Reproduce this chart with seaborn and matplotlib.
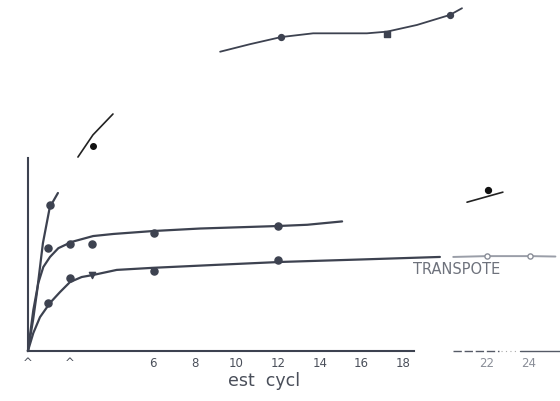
import matplotlib
matplotlib.use("Agg")
import matplotlib.pyplot as plt
import seaborn as sns
import pandas as pd

# ---- data ----
# steep curve (A)
a_x = [0.0, 0.25, 0.43, 0.72, 1.05, 1.44]
a_y = [0.0, 0.75, 1.39, 2.58, 3.44, 3.78]
a_pt_x = [1.06]
a_pt_y = [3.49]

# middle curve (B)
b_x = [0.0, 0.26, 0.5, 0.74, 1.06, 1.46, 2.1, 3.13, 4.1, 6.0, 8.25, 12.0, 13.4, 15.07]
b_y = [0.0, 0.98, 1.63, 2.01, 2.25, 2.46, 2.61, 2.75, 2.8, 2.87, 2.93, 2.99, 3.02, 3.1]
b_pt_x = [0.96, 2.02, 3.07, 6.05, 11.99]
b_pt_y = [2.46, 2.56, 2.56, 2.82, 2.99]

# lower curve (C)
c_x = [0.0, 0.26, 0.58, 1.06, 1.54, 2.02, 2.58, 3.14, 4.26, 6.0, 9.0, 12.1, 16.0, 19.76]
c_y = [0.0, 0.43, 0.81, 1.15, 1.41, 1.65, 1.77, 1.82, 1.94, 1.99, 2.06, 2.13, 2.19, 2.25]
c_pt_x = [0.96, 2.02, 6.05, 11.99]
c_pt_y = [1.15, 1.75, 1.91, 2.18]
c_v_x = [3.07]
c_v_y = [1.81]

# continuation of C on the right (faded)
c2_x = [20.4, 22.0, 24.1, 25.3]
c2_y = [2.25, 2.27, 2.27, 2.26]
c2_pt_x = [22.0, 24.1]
c2_pt_y = [2.27, 2.27]

# top fragment
t_x = [9.22, 10.65, 12.14, 13.68, 16.26, 17.22, 18.66, 20.24, 20.82]
t_y = [7.16, 7.34, 7.51, 7.60, 7.60, 7.64, 7.80, 8.04, 8.20]
t_pt_x = [12.14, 20.24]
t_pt_y = [7.51, 8.04]
t_sq_x = [17.22]
t_sq_y = [7.58]

# small fragment left
s_x = [2.40, 3.12, 4.08]
s_y = [4.64, 5.17, 5.67]
s_pt_x = [3.12]
s_pt_y = [4.90]

# small fragment right
r_x = [21.06, 22.78]
r_y = [3.56, 3.80]
r_pt_x = [22.07]
r_pt_y = [3.85]

x_ticks = [0, 2, 4, 6, 8, 10, 12, 14, 16, 18, 22, 24]
x_tick_labels = ["^", "^", "", "6", "8", "10", "12", "14", "16", "18", "22", "24"]
y_ticks = [1, 2, 3, 4]
label_text = "TRANSPOTE"
xlabel_text = "est  cycl"

# ---- drawing ----
sns.set_theme(style="white")
plt.rcParams['font.family'] = ['DejaVu Sans']

fig = plt.figure(figsize=(5.6, 4.01), dpi=100)
ax = fig.add_axes([0, 0, 1, 1])
ax.set_facecolor("white")

ink = "#3d4250"
faded = "#9a9ea8"


def line(xs, ys, color=ink, lw=1.6):
    df = pd.DataFrame({"x": xs, "y": ys})
    sns.lineplot(data=df, x="x", y="y", ax=ax, sort=False, estimator=None,
                 color=color, lw=lw, clip_on=False)


def pts(xs, ys, color=ink, s=26, marker="o", fc=None):
    df = pd.DataFrame({"x": xs, "y": ys})
    sns.scatterplot(data=df, x="x", y="y", ax=ax, color=fc if fc else color,
                    edgecolor=color, s=s, marker=marker, linewidth=1,
                    clip_on=False, zorder=5)


line(a_x, a_y)
pts(a_pt_x, a_pt_y)
line(b_x, b_y)
pts(b_pt_x, b_pt_y)
line(c_x, c_y)
pts(c_pt_x, c_pt_y)
pts(c_v_x, c_v_y, marker="v", s=20)
line(c2_x, c2_y, color=faded, lw=1.4)
pts(c2_pt_x, c2_pt_y, color="#8a8e98", fc="white", s=14)
line(t_x, t_y, lw=1.3)
pts(t_pt_x, t_pt_y, s=18)
pts(t_sq_x, t_sq_y, marker="s", s=14)
line(s_x, s_y, color="#222222", lw=1.2)
pts(s_pt_x, s_pt_y, color="#111111", s=16)
line(r_x, r_y, color="#222222", lw=1.2)
pts(r_pt_x, r_pt_y, color="#111111", s=18)

# axes frame
px_per_x = 20.85
px_per_y = 41.8
x0_px = 27.9
y0_px = 351
ax.set_xlim(-x0_px / px_per_x, (560 - x0_px) / px_per_x)
ax.set_ylim(-(401 - y0_px) / px_per_y, y0_px / px_per_y)

for side in ["top", "right"]:
    ax.spines[side].set_visible(False)
ax.spines["left"].set_position(("data", 0))
ax.spines["bottom"].set_position(("data", 0))
ax.spines["left"].set_bounds(0, 4.62)
ax.spines["bottom"].set_bounds(0, 18.5)
for side in ["left", "bottom"]:
    ax.spines[side].set_color(ink)
    ax.spines[side].set_linewidth(1.5)

# broken right part of the x axis
ax.plot([20.4, 22.6], [0, 0], color="#555a66", lw=1.0, ls=(0, (6, 2)), clip_on=False)
ax.plot([22.7, 23.5], [0, 0], color="#aaaaaa", lw=0.8, ls=(0, (1, 3)), clip_on=False)
ax.plot([23.6, 25.6], [0, 0], color="#555a66", lw=1.0, clip_on=False)

ax.set_xticks(x_ticks)
ax.set_xticklabels(x_tick_labels)
ax.set_yticks(y_ticks)
ax.set_yticklabels([])
ax.tick_params(axis="x", direction="in", length=6, width=1.2, color=ink,
               labelsize=8.5, labelcolor="#4a4f5a", pad=4)
ax.tick_params(axis="y", direction="in", length=6, width=1.2, color=ink)
for lbl in ax.get_xticklabels()[-2:]:
    lbl.set_color("#8a8e98")
ax.set_xlabel("")
ax.set_ylabel("")

ax.text(18.47, 1.94, label_text, fontsize=10.5, color="#6e727c", va="center",
        ha="left")
ax.text(9.6, -0.72, xlabel_text, fontsize=12.5, color="#4a4f5a", va="center",
        ha="left")

fig.savefig("out.png", dpi=100)
